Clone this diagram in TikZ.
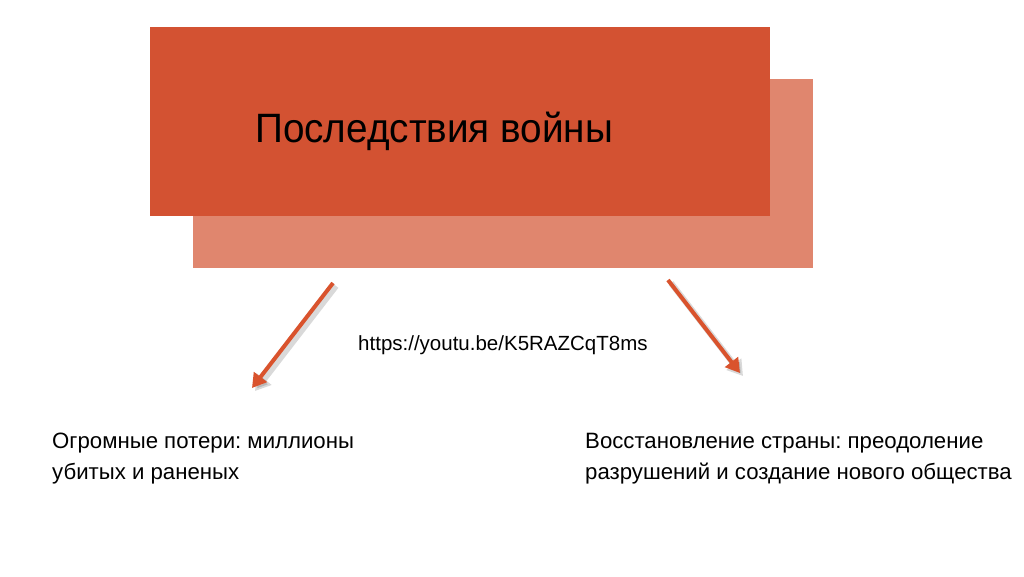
\documentclass[tikz,border=0pt]{standalone}
\usepackage{fontspec}
\setmainfont{Liberation Sans}
\frenchspacing
\usetikzlibrary{arrows.meta}
\definecolor{frontred}{HTML}{D35232}
\definecolor{backred}{HTML}{E0866E}
\definecolor{arrowred}{HTML}{D9532D}
\tikzset{
  arr/.style={draw=arrowred, line width=4pt, -{Triangle[length=14pt,width=16pt]}},
  shad/.style={draw=black, opacity=0.15, line width=6pt, -{Triangle[length=15pt,width=18pt]}},
  txt/.style={anchor=base west, inner sep=0pt, font=\fontsize{22.2}{26}\selectfont},
}
\begin{document}
\begin{tikzpicture}[x=1pt,y=-1pt]
\useasboundingbox (0,0) rectangle (1024,576);
\fill[white] (0,0) rectangle (1024,576);
\fill[backred] (193,79) rectangle (813,268);
\fill[frontred] (150,27) rectangle (770,216);
\node[anchor=base west, inner sep=0pt, xscale=0.944, font=\fontsize{41}{48}\selectfont] (title) at (255,142) {Последствия войны};
\coordinate (a1s) at (333,283);
\coordinate (a1e) at (252,388);
\coordinate (a2s) at (668,280);
\coordinate (a2e) at (740,373);
\draw[shad] ([shift={(3,3)}]a1s) -- ([shift={(3,3)}]a1e);
\draw[shad] ([shift={(3,3)}]a2s) -- ([shift={(3,3)}]a2e);
\draw[arr] (a1s) -- (a1e);
\draw[arr] (a2s) -- (a2e);
\node[anchor=base west, inner sep=0pt, font=\fontsize{20.5}{24}\selectfont] (url) at (358,350) {https://youtu.be/K5RAZCqT8ms};
\node[txt] (l1) at (52,448) {Огромные потери: миллионы};
\node[txt] (l2) at (52,479) {убитых и раненых};
\node[txt] (r1) at (585,448) {Восстановление страны: преодоление};
\node[txt] (r2) at (585,479) {разрушений и создание нового общества};
\end{tikzpicture}
\end{document}
